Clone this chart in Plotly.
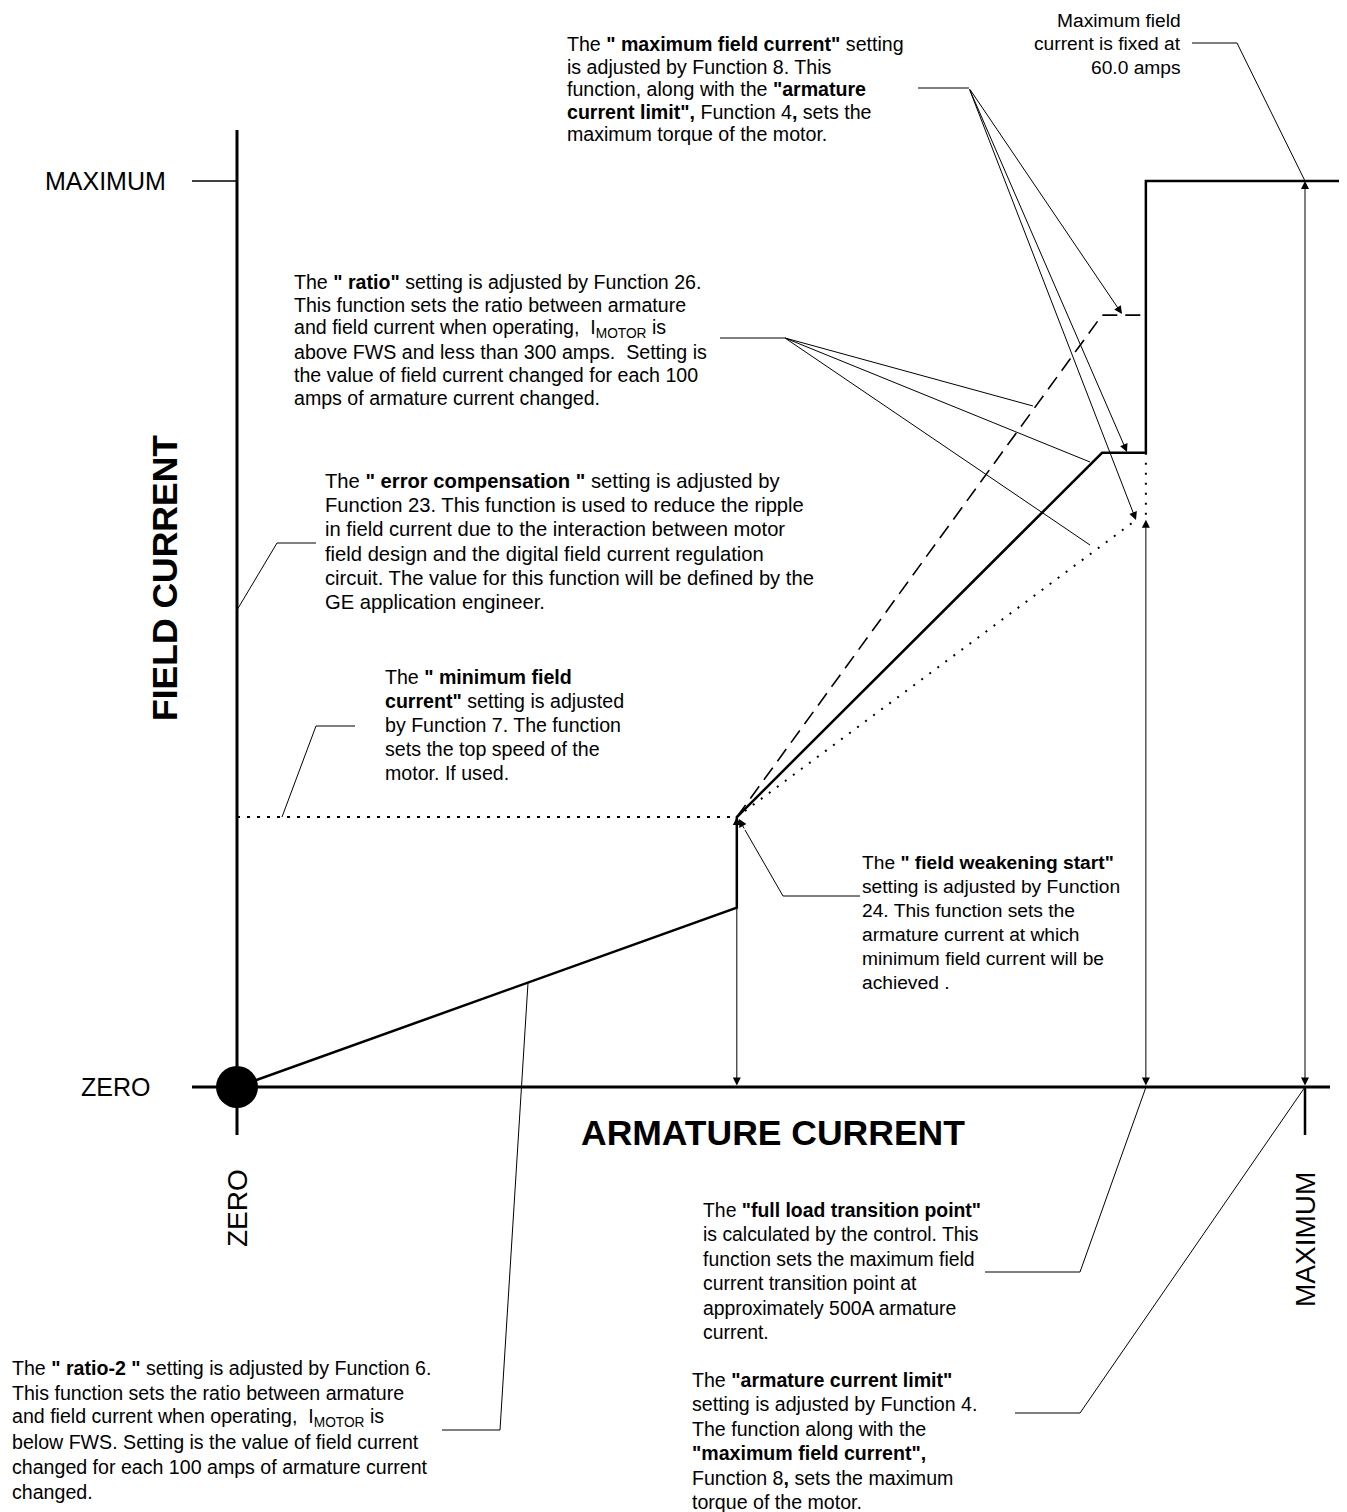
import plotly.graph_objects as go

# Page geometry of the schematic (pixels): where ZERO and MAXIMUM sit
W, H = 1347, 1512
PAGE_OFF = 8  # the html body margin shifts the figure by this much
X_ZERO, X_MAX = 237, 1305
Y_ZERO, Y_MAX = 1087, 181


def ux(px):
    # pixel column -> armature-current units (0 = ZERO, 1 = MAXIMUM)
    return (px - X_ZERO) / (X_MAX - X_ZERO)


def uy(py):
    # pixel row -> field-current units (0 = ZERO, 1 = MAXIMUM)
    return (Y_ZERO - py) / (Y_ZERO - Y_MAX)


# ---- data (normalised units: 0 = ZERO, 1 = MAXIMUM) ----
curve_arm = [0.0, 0.468, 0.468, 0.810, 0.851, 0.851, 1.04]
curve_fld = [0.0, 0.198, 0.298, 0.700, 0.700, 1.0, 1.0]

ratio_arm = [0.468, 0.810, 0.851]
ratio_fld = [0.298, 0.852, 0.852]

errcomp_arm = [0.468, 0.842]
errcomp_fld = [0.298, 0.626]

fullload_dot_arm = [0.851, 0.851]
fullload_dot_fld = [0.700, 0.626]

minfield_arm = [0.0, 0.468]
minfield_fld = [0.298, 0.298]

fws_arm, fws_fld = 0.468, 0.298
fullload_arm, fullload_fld = 0.851, 0.626
max_arm, max_fld = 1.0, 1.0

# ---- text blocks ----
txt_maxfield = [
    'The <b>" maximum field current"</b> setting',
    'is adjusted by Function 8. This',
    'function, along with the <b>"armature</b>',
    '<b>current limit",</b> Function 4<b>,</b> sets the',
    'maximum torque of the motor.',
]
txt_fixed = ['Maximum field', 'current is fixed at', '60.0 amps']
txt_ratio = [
    'The <b>" ratio"</b> setting is adjusted by Function 26.',
    'This function sets the ratio between armature',
    'and field current when operating,\u00a0 I<sub>MOTOR</sub> is',
    'above FWS and less than 300 amps.\u00a0 Setting is',
    'the value of field current changed for each 100',
    'amps of armature current changed.',
]
txt_errcomp = [
    'The <b>" error compensation "</b> setting is adjusted by',
    'Function 23. This function is used to reduce the ripple',
    'in field current due to the interaction between motor',
    'field design and the digital field current regulation',
    'circuit. The value for this function will be defined by the',
    'GE application engineer.',
]
txt_minfield = [
    'The <b>" minimum field</b>',
    '<b>current"</b> setting is adjusted',
    'by Function 7. The function',
    'sets the top speed of the',
    'motor. If used.',
]
txt_fws = [
    'The <b>" field weakening start"</b>',
    'setting is adjusted by Function',
    '24. This function sets the',
    'armature current at which',
    'minimum field current will be',
    'achieved .',
]
txt_fullload = [
    'The <b>"full load transition point"</b>',
    'is calculated by the control. This',
    'function sets the maximum field',
    'current transition point at',
    'approximately 500A armature',
    'current.',
]
txt_armlimit = [
    'The <b>"armature current limit"</b>',
    'setting is adjusted by Function 4.',
    'The function along with the',
    '<b>"maximum field current",</b>',
    'Function 8<b>,</b> sets the maximum',
    'torque of the motor.',
]
txt_ratio2 = [
    'The <b>" ratio-2 "</b> setting is adjusted by Function 6.',
    'This function sets the ratio between armature',
    'and field current when operating,\u00a0 I<sub>MOTOR</sub> is',
    'below FWS. Setting is the value of field current',
    'changed for each 100 amps of armature current',
    'changed.',
]

FONT = "Liberation Sans, Arial, sans-serif"
fig = go.Figure()

# curves
fig.add_trace(go.Scatter(x=curve_arm, y=curve_fld, mode="lines",
                         line=dict(color="black", width=2.5)))
fig.add_trace(go.Scatter(x=ratio_arm, y=ratio_fld, mode="lines",
                         line=dict(color="black", width=1.6, dash="15px,8px")))
fig.add_trace(go.Scatter(x=errcomp_arm, y=errcomp_fld, mode="lines",
                         line=dict(color="black", width=2, dash="2px,8px")))
fig.add_trace(go.Scatter(x=fullload_dot_arm, y=fullload_dot_fld, mode="lines",
                         line=dict(color="black", width=2, dash="2px,8px")))
fig.add_trace(go.Scatter(x=minfield_arm, y=minfield_fld, mode="lines",
                         line=dict(color="black", width=2, dash="3px,7px")))

shapes = []


def seg(pts, width=1.0):
    path = "M " + " L ".join(f"{ux(a)},{uy(b)}" for a, b in pts)
    shapes.append(dict(type="path", path=path, xref="x", yref="y",
                       line=dict(color="black", width=width)))


# axes and ticks
seg([(237, 130), (237, 1135)], 3)
seg([(192, 1087), (1330, 1087)], 3)
seg([(192, 181), (237, 181)], 1.5)
seg([(1305, 1087), (1305, 1135)], 2.5)

# leader lines
seg([(1192, 43), (1237, 43), (1305, 181)])
seg([(918, 88), (969, 88)])
seg([(720, 338), (785, 338), (1033, 406)])
seg([(785, 338), (1090, 462)])
seg([(785, 338), (1090, 545)])
seg([(316, 543), (277, 543), (237, 610)])
seg([(355, 726), (316, 726), (282, 817)])
seg([(860, 896), (783, 896), (745, 830)])
seg([(442, 1430), (500, 1430), (528, 983)])
seg([(985, 1272), (1080, 1272), (1146, 1087)])
seg([(1015, 1413), (1080, 1413), (1305, 1087)])

fig.add_trace(go.Scatter(x=[0], y=[0], mode="markers",
                         marker=dict(color="black", size=42)))

ann = []


def arrow(head, tail, both=False):
    a = dict(x=head[0], y=head[1], ax=tail[0], ay=tail[1], xref="x", yref="y",
             axref="x", ayref="y", text="", showarrow=True, arrowhead=2,
             arrowsize=1.6, arrowwidth=1, arrowcolor="black", standoff=0)
    if both:
        a.update(arrowside="end+start", startarrowhead=2, startarrowsize=1.6,
                 startstandoff=0)
    ann.append(a)


# dimension arrows
arrow((fws_arm, fws_fld), (fws_arm, 0), both=True)
arrow((fullload_arm, fullload_fld), (fullload_arm, 0), both=True)
arrow((max_arm, max_fld), (max_arm, 0), both=True)
# leader arrows
for hx, hy in [(1122, 314), (1127, 452), (1136, 520)]:
    arrow((ux(hx), uy(hy)), (ux(969), uy(88)))
arrow((ux(739), uy(819)), (ux(745), uy(830)))


def block(lines, x, y0, dy, size=19.6, anchor="left"):
    for i, t in enumerate(lines):
        ann.append(dict(x=ux(x), y=uy(y0 + i * dy), xref="x", yref="y",
                        text=t, showarrow=False, xanchor=anchor,
                        yanchor="middle", align=anchor,
                        font=dict(family=FONT, size=size, color="black")))


block(txt_maxfield, 565, 44, 22.6)
block(txt_fixed, 1183, 20, 23.5, size=19.2, anchor="right")
block(txt_ratio, 292, 282, 23.2)
block(txt_errcomp, 323, 481, 24.2, size=20.2)
block(txt_minfield, 383, 677, 24)
block(txt_fws, 860, 862, 24, size=19.2)
block(txt_fullload, 701, 1210, 24.4, size=19.4)
block(txt_armlimit, 690, 1380, 24.4)
block(txt_ratio2, 10, 1368, 24.8)


def label(t, x, y, size, bold=False, angle=0):
    ann.append(dict(x=ux(x), y=uy(y), xref="x", yref="y",
                    text=f"<b>{t}</b>" if bold else t, showarrow=False,
                    textangle=angle, xanchor="center", yanchor="middle",
                    font=dict(family=FONT, size=size, color="black")))


label("MAXIMUM", 105, 181, 25)
label("ZERO", 115, 1087, 25)
label("FIELD CURRENT", 165, 578, 35.5, bold=True, angle=-90)
label("ARMATURE CURRENT", 773, 1133, 35.5, bold=True)
label("ZERO", 237, 1208, 28, angle=-90)
label("MAXIMUM", 1305, 1240, 28, angle=-90)

fig.update_layout(
    width=W, height=H, margin=dict(l=0, r=0, t=0, b=0),
    paper_bgcolor="white", plot_bgcolor="white", showlegend=False,
    xaxis=dict(range=[ux(PAGE_OFF), ux(PAGE_OFF + W)], visible=False,
               fixedrange=True),
    yaxis=dict(range=[uy(PAGE_OFF + H), uy(PAGE_OFF)], visible=False,
               fixedrange=True),
    shapes=shapes, annotations=ann,
)

fig.write_html("out.html")
